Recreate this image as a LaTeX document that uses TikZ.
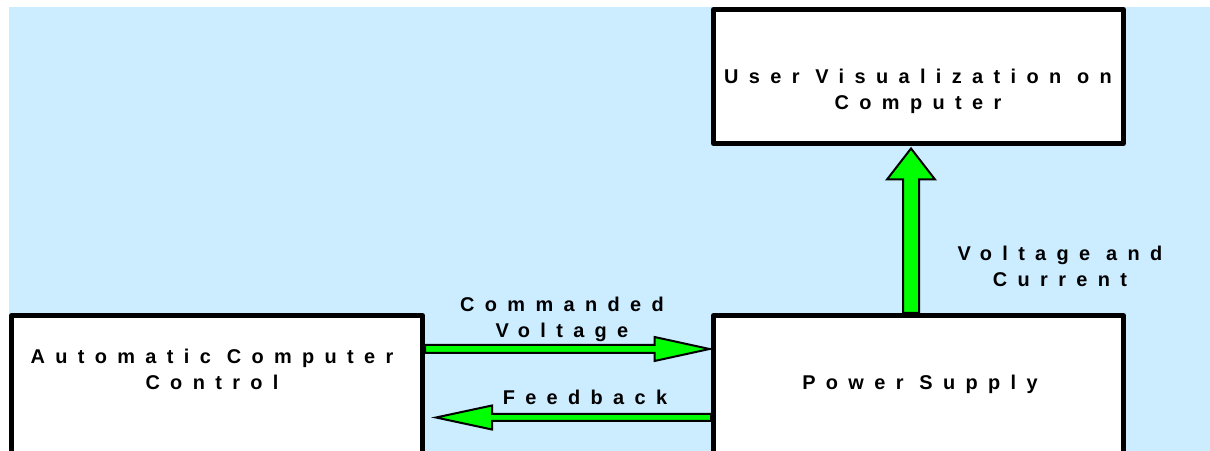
\documentclass[tikz,border=0pt]{standalone}
\usepackage{fontspec}
\setmainfont{Liberation Sans}
\newfontfamily\spacedfont{Liberation Sans}[LetterSpace=52]
\usetikzlibrary{calc}
\definecolor{bgblue}{HTML}{CCECFF}
\definecolor{arrgreen}{HTML}{00FF00}
% block arrow: tail, tip, shaft half width, head half width, head length
\newcommand\garr[5]{%
  \coordinate (gH) at ($(#2)!#5!(#1)$);
  \draw[garrow] ($(#1)!#3!90:(#2)$) -- ($(gH)!#3!-90:(#1)$) -- ($(gH)!#4!-90:(#1)$)
    -- (#2) -- ($(gH)!#4!90:(#1)$) -- ($(gH)!#3!90:(#1)$) -- ($(#1)!#3!-90:(#2)$) -- cycle;}
\begin{document}
\begin{tikzpicture}[x=1bp,y=-1bp,
  box/.style={draw=black, line width=5bp, fill=white, outer sep=0pt, inner sep=0pt, line join=round},
  garrow/.style={draw=black, line width=2bp, fill=arrgreen},
  lbl/.style={font=\spacedfont\bfseries\fontsize{20}{26}\selectfont, align=center, anchor=north, inner sep=0pt}]
\useasboundingbox (0,0) rectangle (1210,451);
\clip (0,0) rectangle (1210,451);
\fill[bgblue] (9,7) rectangle (1210,451);
% boxes
\node[box, minimum width=410bp, minimum height=134bp] (uv) at (918.5,76.5) {};
\node[box, minimum width=411bp, minimum height=204.5bp] (acc) at (217,417.75) {};
\node[box, minimum width=410bp, minimum height=204.5bp] (ps) at (918.5,417.75) {};
% connector end points
\path (acc.north east) ++(2.5,33.5) coordinate (cvT);
\path (ps.north west) ++(-4,33.5) coordinate (cvP);
\path (ps.north west) ++(-2.5,102) coordinate (fbT);
\path (acc.north east) ++(13.5,102) coordinate (fbP);
\path (ps.north) ++(-7.5,-2.5) coordinate (vcT);
\path (uv.south) ++(-7.5,5) coordinate (vcP);
% arrows
\garr{cvT}{cvP}{4bp}{12bp}{55bp}
\garr{fbT}{fbP}{3.5bp}{12bp}{56bp}
\garr{vcT}{vcP}{8bp}{24bp}{31bp}
% labels
\node[lbl] (uvt) at (918,64.8) {\strut User Visualization on\\Computer};
\node[lbl] (acct) at (212,344.8) {\strut Automatic Computer\\Control};
\node[lbl] (pst) at (920,370.8) {\strut Power Supply};
\node[lbl] (cvt) at (562,292.8) {\strut Commanded\\Voltage};
\node[lbl] (fbt) at (585,385.8) {\strut Feedback};
\node[lbl] (vct) at (1060,241.8) {\strut Voltage and\\Current};
\end{tikzpicture}
\end{document}
